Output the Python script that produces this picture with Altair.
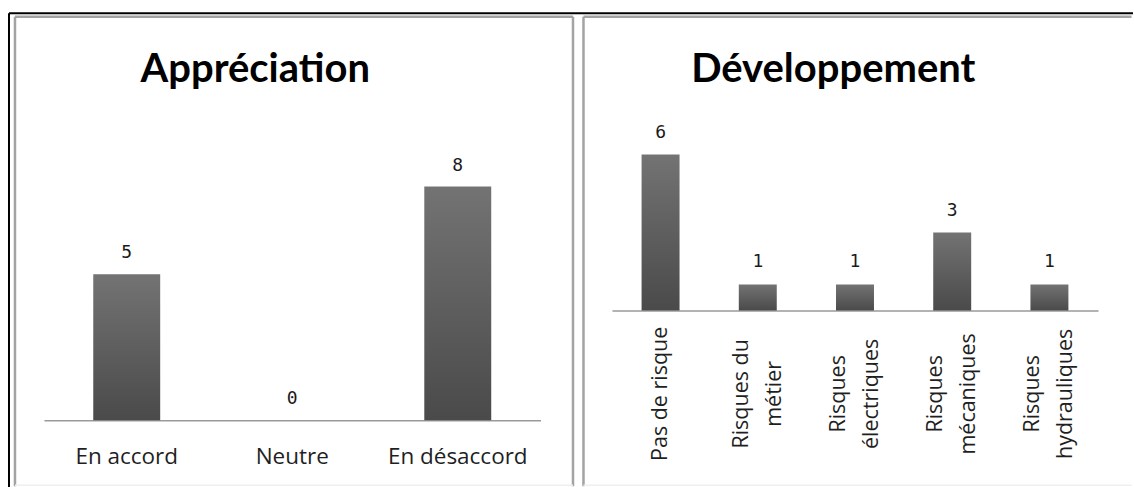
import altair as alt
import pandas as pd

# Survey answers
appreciation_categories = ["En accord", "Neutre", "En désaccord"]
appreciation_counts = [5, 0, 8]

developpement_categories = [
    "Pas de risque",
    "Risques du\nmétier",
    "Risques\nélectriques",
    "Risques\nmécaniques",
    "Risques\nhydrauliques",
]
developpement_counts = [6, 1, 1, 3, 1]

TITLE_FONT = "Lato"
LABEL_FONT = "Open Sans"
BAR_FILL = alt.Gradient(
    gradient="linear",
    x1=0, x2=0, y1=0, y2=1,
    stops=[
        alt.GradientStop(offset=0, color="#737373"),
        alt.GradientStop(offset=1, color="#4a4a4a"),
    ],
)
FRAME_GRAY = "#a3a3a3"


def rule(x, y, x2, y2, color, width):
    """A single decorative line, in pixels relative to the plot area."""
    return alt.Chart(alt.Data(values=[{}])).mark_rule(
        color=color, strokeWidth=width
    ).encode(
        x=alt.value(x), x2=alt.value(x2), y=alt.value(y), y2=alt.value(y2)
    )


def title_text(x, y, label):
    return alt.Chart(alt.Data(values=[{}])).mark_text(
        font=TITLE_FONT, fontSize=40, fontWeight="bold", color="#000000",
        align="center", baseline="alphabetic",
    ).encode(x=alt.value(x), y=alt.value(y), text=alt.value(label))


def bar_panel(categories, counts, ymax, bar_size, x_axis, label_dy):
    df = pd.DataFrame({"cat": categories, "n": counts})
    x_enc = alt.X(
        "cat:N", sort=None,
        scale=alt.Scale(paddingInner=0, paddingOuter=0),
        axis=x_axis,
    )
    y_enc = alt.Y("n:Q", scale=alt.Scale(domain=[0, ymax], nice=False),
                  axis=None)
    base = alt.Chart(df).encode(x=x_enc, y=y_enc)
    bars = base.mark_bar(size=bar_size, color=BAR_FILL)
    labels = base.mark_text(
        font="DejaVu Sans Mono", fontSize=18, color="#1a1a1a",
        baseline="alphabetic", dy=label_dy,
    ).encode(text="n:Q")
    return bars, labels


# Left panel: plot area 497 x 404 px, 29.25 px per unit
left_axis = alt.Axis(
    title=None, ticks=False, labelAngle=0, labelFont=LABEL_FONT,
    labelFontSize=22.5, labelColor="#1f1f1f", labelPadding=43,
    labelBaseline="alphabetic", labelLimit=0,
    domainColor="#9a9a9a", domainWidth=1.5, grid=False,
)
lb, ll = bar_panel(appreciation_categories, appreciation_counts,
                   404 / 29.25, 67, left_axis, -16)
left = alt.layer(
    rule(-35, -3.5, 1090, -3.5, "#000000", 2),      # outer frame, top
    rule(-35, -3.5, -35, 471, "#000000", 2),        # outer frame, left
    rule(-29, 0, 529.5, 0, FRAME_GRAY, 2.5),
    rule(-29, 0, -29, 470, FRAME_GRAY, 2.5),
    rule(529.5, 0, 529.5, 470, FRAME_GRAY, 2.5),
    rule(-29, 469, 529.5, 469, "#efefef", 1.5),
    title_text(211.5, 65, "Appréciation"),
    lb, ll,
).properties(width=497, height=404)

# Right panel: plot area 486.5 x 294 px, 26 px per unit.
# Two-line labels are shifted so the pair of lines straddles the bar.
right_axis = alt.Axis(
    title=None, ticks=False, labelAngle=-90, labelAlign="center",
    labelBaseline="middle", labelFont=LABEL_FONT, labelFontSize=21.5,
    labelLineHeight=33, labelColor="#1f1f1f", labelPadding=83,
    labelLimit=0, labelExpr="split(datum.label, '\\n')",
    labelOffset={
        "condition": {"test": "indexof(datum.value, '\\n') >= 0",
                      "value": -16},
        "value": 0,
    },
    domainColor="#9a9a9a", domainWidth=1.5, grid=False,
)
rb, rl = bar_panel(developpement_categories, developpement_counts,
                   294 / 26, 38, right_axis, -17)
right = alt.layer(
    rule(-28.5, 0, 520, 0, FRAME_GRAY, 2.5),
    rule(-28.5, 0, -28.5, 470, FRAME_GRAY, 2.5),
    rule(-28.5, 469, 520, 469, "#efefef", 1.5),
    title_text(221.5, 65, "Développement"),
    rb, rl,
).properties(width=486.5, height=294)

chart = alt.hconcat(left, right, spacing=71.5, bounds="flush").properties(
    padding={"left": 8, "top": 11.5, "right": 0, "bottom": 0},
    background="white",
).configure_view(stroke=None)

chart.save("out.html", embed_options={"renderer": "svg", "actions": False})
